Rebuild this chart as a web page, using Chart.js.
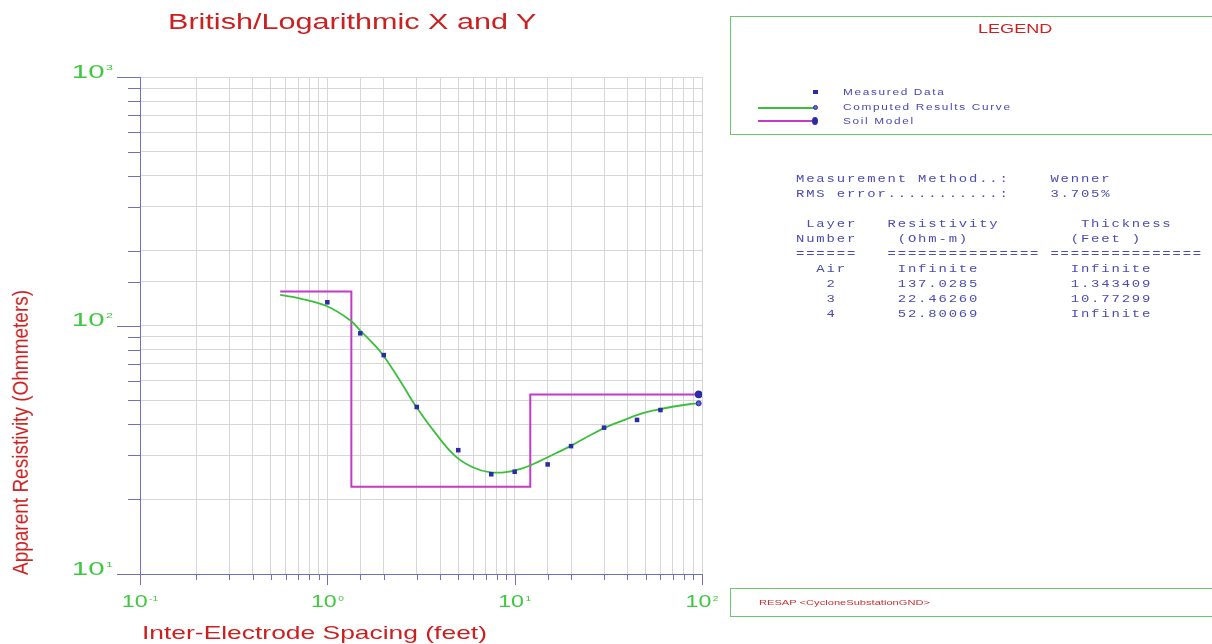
<!DOCTYPE html>
<html>
<head>
<meta charset="utf-8">
<script src="https://cdn.jsdelivr.net/npm/chart.js@4.4.1/dist/chart.umd.min.js"></script>
<style>
  html, body { margin: 0; padding: 0; background: #fff; width: 1212px; height: 644px; overflow: hidden; }
  #wrap { position: relative; width: 1212px; height: 644px; }
  #c { position: absolute; left: 0; top: 0; width: 1212px; height: 644px; }
  .t { position: absolute; white-space: pre; line-height: 1; transform-origin: 0 0;
       font-family: "Liberation Sans", Arial, sans-serif; }
  .red { color: #cc1f1f; }
  #title { left: 168px; top: 11.4px; font-size: 22px; transform: scaleX(1.39); }
  #xtitle { left: 142px; top: 622.9px; font-size: 19px; transform: scaleX(1.39); }
  #ytitle { left: 9px; top: 575px; font-size: 19px; line-height: 19px; transform: rotate(-90deg) scale(1, 1.18); }
  .box { position: absolute; border: 1px solid #6cc66c; box-sizing: border-box; }
  #legendBox { left: 730px; top: 16px; width: 500px; height: 119px; }
  #legendTitle { left: 978px; top: 21.7px; font-size: 13px; transform: scaleX(1.39); }
  .lg { left: 843px; font-size: 8.5px; letter-spacing: 1.2px; color: #4848b4; transform: scaleX(1.39); }
  .sym { position: absolute; }
  #info { position: absolute; left: 796px; top: 172.3px; margin: 0; font-family: "Liberation Mono", "DejaVu Sans Mono", monospace;
          font-size: 10px; line-height: 15px; letter-spacing: 1.32px; color: #4b4bb5; transform: scaleX(1.39); transform-origin: 0 0; }
  #footBox { left: 730px; top: 588px; width: 500px; height: 29px; }
  #foot { left: 759px; top: 598.5px; font-size: 8px; color: #cc3030; transform: scaleX(1.39); }
</style>
</head>
<body>
<div id="wrap">
  <canvas id="c" width="1212" height="644"></canvas>

  <div class="t red" id="title">British/Logarithmic X and Y</div>
  <div class="t red" id="xtitle">Inter-Electrode Spacing (feet)</div>
  <div class="t red" id="ytitle">Apparent Resistivity (Ohmmeters)</div>

  <div class="box" id="legendBox"></div>
  <div class="t red" id="legendTitle">LEGEND</div>

  <div class="sym" style="left:813px;top:90px;width:5px;height:4px;background:#2b2ba6;"></div>
  <div class="t lg" style="top:87.8px;">Measured Data</div>

  <div class="sym" style="left:758px;top:106.5px;width:56px;height:2px;background:#3bbf3b;"></div>
  <div class="sym" style="left:812.5px;top:105px;width:5px;height:5px;border-radius:50%;box-sizing:border-box;border:1px solid #2b2ba6;background:#6a6ad4;"></div>
  <div class="t lg" style="top:102.8px;">Computed Results Curve</div>

  <div class="sym" style="left:758px;top:119.5px;width:56px;height:2px;background:#c23ac6;"></div>
  <div class="sym" style="left:812px;top:116.5px;width:6px;height:8px;border-radius:50%;background:#2b2ba6;"></div>
  <div class="t lg" style="top:116.8px;">Soil Model</div>

<pre id="info">Measurement Method..:    Wenner
RMS error...........:    3.705%

 Layer   Resistivity        Thickness
Number    (Ohm-m)          (Feet )
======   =============== ===============
  Air     Infinite         Infinite
   2      137.0285         1.343409
   3      22.46260         10.77299
   4      52.80069         Infinite</pre>

  <div class="box" id="footBox"></div>
  <div class="t" id="foot">RESAP &lt;CycloneSubstationGND&gt;</div>
</div>

<script>
// Wenner sounding: electrode spacing (ft) and measured apparent resistivity (ohm-m)
const spacingFt   = [1, 1.5, 2, 3, 5, 7.5, 10, 15, 20, 30, 45, 60];
const measuredRho = [124, 93, 76, 47, 31.5, 25.2, 25.8, 27.6, 32.7, 38.8, 41.7, 45.7];

// Computed results curve of the fitted model
const curveSpacing = [0.56, 0.71, 0.99, 1.32, 1.49, 1.75, 1.98, 2.43, 2.98, 3.96, 4.87, 5.97,
                      7.32, 8.99, 11.0, 13.5, 16.6, 20.3, 25.0, 30.6, 37.6, 46.1, 56.6, 69.4, 85.2, 96];
const curveRho     = [132.7, 128.7, 119.8, 105.2, 95.9, 84.8, 76.1, 60.4, 47.1, 35.2, 29.6, 26.9,
                      25.7, 25.7, 26.6, 28.4, 30.6, 33.0, 36.0, 38.9, 41.4, 43.9, 45.7, 47.1, 48.2, 48.6];

// Soil model: top depth of each layer (ft) and its resistivity (ohm-m)
const layerTopFt = [0.56, 1.343409, 12.116399, 96];
const layerRho   = [137.0285, 22.46260, 52.80069, 52.80069];

// Decade tick labels (10^n)
const xDecades = [0.1, 1, 10, 100];
const xDecadeExp = ['-1', '0', '1', '2'];
const yDecades = [10, 100, 1000];
const yDecadeExp = ['1', '2', '3'];

const FONT = '"Liberation Sans", Arial, sans-serif';
const AXIS_BLUE = '#7070c2';
const LABEL_GREEN = '#3fc83f';

function isDecade(v) {
  const l = Math.log10(v);
  return Math.abs(l - Math.round(l)) < 1e-6;
}

function drawPower(ctx, exp, x, baseline, size, supSize, sx, align) {
  const base = size + 'px ' + FONT, sup = supSize + 'px ' + FONT;
  ctx.font = base;
  const wBase = ctx.measureText('10').width;
  ctx.font = sup;
  const wSup = ctx.measureText(exp).width;
  const gap = 1;
  const total = (wBase + gap + wSup) * sx;
  const left = align === 'right' ? x - total : x - total / 2;
  ctx.save();
  ctx.translate(left, baseline);
  ctx.scale(sx, 1);
  ctx.textAlign = 'left';
  ctx.textBaseline = 'alphabetic';
  ctx.fillStyle = LABEL_GREEN;
  ctx.font = base;
  ctx.fillText('10', 0, 0);
  ctx.font = sup;
  ctx.fillText(exp, wBase + gap, -0.716 * (size - supSize));
  ctx.restore();
}

// Outside tick marks and 10^n labels for both log axes
const axisDecor = {
  id: 'axisDecor',
  afterDraw(chart) {
    const { ctx, chartArea: a, scales: { x, y } } = chart;
    ctx.save();
    ctx.strokeStyle = AXIS_BLUE;
    ctx.lineWidth = 1;
    y.ticks.forEach(t => {
      const py = Math.round(y.getPixelForValue(t.value)) + 0.5;
      const len = isDecade(t.value) ? 23 : 12;
      ctx.beginPath();
      ctx.moveTo(a.left - len, py);
      ctx.lineTo(a.left, py);
      ctx.stroke();
    });
    x.ticks.forEach(t => {
      const px = Math.round(x.getPixelForValue(t.value)) + 0.5;
      const len = isDecade(t.value) ? 11 : 6;
      ctx.beginPath();
      ctx.moveTo(px, a.bottom);
      ctx.lineTo(px, a.bottom + len);
      ctx.stroke();
    });
    ctx.restore();

    yDecades.forEach((v, i) => {
      drawPower(ctx, yDecadeExp[i], 113, y.getPixelForValue(v) + 0.5, 19, 8, 1.55, 'right');
    });
    xDecades.forEach((v, i) => {
      drawPower(ctx, xDecadeExp[i], x.getPixelForValue(v), 607, 16, 7, 1.45, 'center');
    });
  }
};

const lastCurve = curveSpacing.length - 1;
const lastLayer = layerTopFt.length - 1;

new Chart(document.getElementById('c'), {
  type: 'scatter',
  data: {
    datasets: [
      {
        label: 'Measured Data',
        data: spacingFt.map((s, i) => ({ x: s, y: measuredRho[i] })),
        showLine: false,
        pointStyle: 'rect',
        pointRadius: 3.2,
        pointBackgroundColor: '#2b2ba6',
        pointBorderColor: '#2b2ba6',
        pointBorderWidth: 0
      },
      {
        label: 'Computed Results Curve',
        data: curveSpacing.map((s, i) => ({ x: s, y: curveRho[i] })),
        showLine: true,
        borderColor: '#3bbf3b',
        borderWidth: 1.8,
        tension: 0.4,
        pointRadius: c => (c.dataIndex === lastCurve ? 2.5 : 0),
        pointBackgroundColor: '#5a5ad0',
        pointBorderColor: '#2b2ba6',
        pointBorderWidth: 1
      },
      {
        label: 'Soil Model',
        data: layerTopFt.map((d, i) => ({ x: d, y: layerRho[i] })),
        showLine: true,
        stepped: 'before',
        borderColor: '#c23ac6',
        borderWidth: 2,
        pointRadius: c => (c.dataIndex === lastLayer ? 3.8 : 0),
        pointBackgroundColor: '#2b2ba6',
        pointBorderColor: '#2b2ba6',
        pointBorderWidth: 0
      }
    ]
  },
  options: {
    responsive: false,
    animation: false,
    devicePixelRatio: 1,
    layout: { padding: { left: 0, top: 77, right: 510, bottom: 0 }, autoPadding: false },
    plugins: { legend: { display: false }, tooltip: { enabled: false }, title: { display: false } },
    scales: {
      x: {
        type: 'logarithmic', position: 'bottom', min: 0.1, max: 100,
        grid: { color: '#d6d6d6', lineWidth: 1, drawTicks: false },
        border: { color: AXIS_BLUE, width: 1 },
        ticks: { display: false },
        afterFit(s) { s.height = 70; }
      },
      y: {
        type: 'logarithmic', position: 'left', min: 10, max: 1000,
        grid: { color: '#d6d6d6', lineWidth: 1, drawTicks: false },
        border: { color: AXIS_BLUE, width: 1 },
        ticks: { display: false },
        afterFit(s) { s.width = 140; }
      }
    }
  },
  plugins: [axisDecor]
});
</script>
</body>
</html>
